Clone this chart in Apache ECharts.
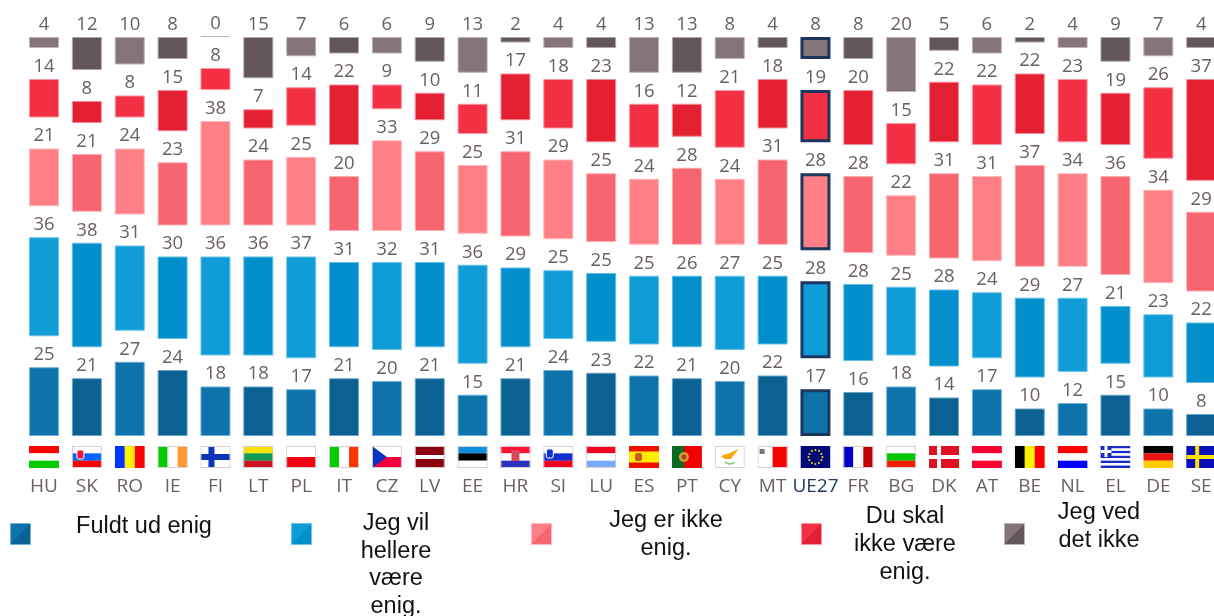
<!DOCTYPE html>
<html><head><meta charset="utf-8">
<style>html,body{margin:0;padding:0;background:#fff;overflow:hidden}#c{width:1214px;height:616px}</style>
<script src="https://cdn.jsdelivr.net/npm/echarts@6/dist/echarts.min.js"></script>
</head><body><div id="c"></div>
<script>
const categories = ['HU','SK','RO','IE','FI','LT','PL','IT','CZ','LV','EE','HR','SI','LU','ES','PT','CY','MT','UE27','FR','BG','DK','AT','BE','NL','EL','DE','SE'];
const fuldtUdEnig   = [25,21,27,24,18,18,17,21,20,21,15,21,24,23,22,21,20,22,17,16,18,14,17,10,12,15,10,8];
const hellereEnig   = [36,38,31,30,36,36,37,31,32,31,36,29,25,25,25,26,27,25,28,28,25,28,24,29,27,21,23,22];
const ikkeEnig      = [21,21,24,23,38,24,25,20,33,29,25,31,29,25,24,28,24,31,28,28,22,31,31,37,34,36,34,29];
const skalIkkeEnig  = [14,8,8,15,8,7,14,22,9,10,11,17,18,23,16,12,21,18,19,20,15,22,22,22,23,19,26,37];
const vedIkke       = [4,12,10,8,0,15,7,6,6,9,13,2,4,4,13,13,8,4,8,8,20,5,6,2,4,9,7,4];
const legendLabels  = ['Fuldt ud enig','Jeg vil\nhellere\nvære\nenig.','Jeg er ikke\nenig.','Du skal\nikke være\nenig.','Jeg ved\ndet ikke'];

const GAP = 11.27;
const palette = [
  {light:'#0E72AB',dark:'#0B6192',lightB:'#6FB2D6',darkB:'#6AA6C6'},
  {light:'#109CD7',dark:'#028FCB',lightB:'#6CC4E8',darkB:'#62BEE4'},
  {light:'#FF7F87',dark:'#F76570',lightB:'#FFB8BC',darkB:'#FBAEB3'},
  {light:'#F43144',dark:'#E41F31',lightB:'#FB959F',darkB:'#F08E97'},
  {light:'#857578',dark:'#62565B',lightB:'#BDB3B5',darkB:'#ADA6A9'}
];
const NAVY = '#1B365F', TXT = '#6A5F63';
const FONT = '"Open Sans"';
const seriesValues = [fuldtUdEnig,hellereEnig,ikkeEnig,skalIkkeEnig,vedIkke];

const st = (c,h)=>h.map((col,i)=>`<rect x="0" y="${i*22/h.length}" width="30" height="${22/h.length+.1}" fill="${col}"/>`).join('');
const sv = (h)=>h.map((col,i)=>`<rect y="0" x="${i*30/h.length}" height="22" width="${30/h.length+.1}" fill="${col}"/>`).join('');
const W='#ffffff';
const shield=(x,y,c)=>`<rect x="${x}" y="${y}" width="7" height="9" rx="2" fill="${c}" stroke="#ffffff" stroke-width="1"/>`;
let stars='';
[[15,4],[18.5,5],[21,8],[22,11],[21,14],[18.5,17],[15,18],[11.5,17],[9,14],[8,11],[9,8],[11.5,5]].forEach(p=>{stars+=`<circle cx="${p[0]}" cy="${p[1]}" r="1" fill="#FFE000"/>`;});
let elStripes='';
for(let i=0;i<9;i++)elStripes+=`<rect y="${i*22/9}" width="30" height="${22/9}" fill="${i%2?W:'#1A2BC8'}"/>`;
const flagBodies = {
  HU: st(0,['#FF0000',W,'#00CC00']),
  SK: st(0,[W,'#0066FF','#FF0000'])+shield(5,4,'#EE1133'),
  RO: sv(['#0033FF','#FFEE00','#FF0000']),
  IE: sv(['#00CC00',W,'#FF9933']),
  FI: `<rect width="30" height="22" fill="${W}"/><rect x="8" width="6" height="22" fill="#0A35B8"/><rect y="8" width="30" height="6" fill="#0A35B8"/>`,
  LT: st(0,['#FFE000','#119955','#CC1122']),
  PL: st(0,[W,'#F50012']),
  IT: sv(['#00CC00',W,'#FF3300']),
  CZ: st(0,[W,'#F5003C'])+'<path d="M0 0L15 11L0 22Z" fill="#0A33C4"/>',
  LV: `<rect width="30" height="22" fill="#8C0010"/><rect y="9" width="30" height="4" fill="${W}"/>`,
  EE: st(0,['#0F8FE0','#000000',W]),
  HR: st(0,['#FF1030',W,'#3030C0'])+'<rect x="11" y="4" width="8" height="11" fill="#D8485A"/>',
  SI: st(0,[W,'#1030D0','#F00020'])+shield(3,3,'#1030D0'),
  LU: st(0,['#F50020',W,'#77AAFF']),
  ES: '<rect width="30" height="22" fill="#EE1100"/><rect y="5.5" width="30" height="11" fill="#FFEE00"/><rect x="6" y="7" width="7" height="8" rx="2" fill="#C85A1C"/>',
  PT: '<rect width="30" height="22" fill="#F50000"/><rect width="12" height="22" fill="#0A6B1E"/><circle cx="12" cy="11" r="5" fill="#C8A030"/><circle cx="12" cy="11" r="2.4" fill="#C03020"/>',
  CY: `<rect width="30" height="22" fill="${W}"/><path d="M6 10L15 7L24 3L20 8L16 13L10 13Z" fill="#F5A800"/><path d="M10 16Q15 20 20 16" stroke="#7FCF6A" stroke-width="1.6" fill="none"/>`,
  MT: `<rect width="30" height="22" fill="${W}"/><rect x="15" width="15" height="22" fill="#FF0000"/><rect x="2" y="3" width="5" height="5" fill="#777777"/>`,
  UE27: '<rect width="30" height="22" fill="#000A78"/>'+stars,
  FR: sv(['#0000C8',W,'#C00000']),
  BG: st(0,[W,'#00C800','#F02000']),
  DK: `<rect width="30" height="22" fill="#DD1122"/><rect x="8" width="4" height="22" fill="${W}"/><rect y="9" width="30" height="4" fill="${W}"/>`,
  AT: st(0,['#FF0033',W,'#FF0033']),
  BE: sv(['#000000','#FFF000','#FF0000']),
  NL: st(0,['#FF0000',W,'#0000FF']),
  EL: elStripes+`<rect width="11" height="11" fill="#1A2BC8"/><rect x="4" width="3" height="11" fill="${W}"/><rect y="4" width="11" height="3" fill="${W}"/>`,
  DE: st(0,['#000000','#EE1111','#FFCC00']),
  SE: '<rect width="30" height="22" fill="#0A10B8"/><rect x="9" width="4" height="22" fill="#FFE000"/><rect y="9" width="30" height="4" fill="#FFE000"/>'
};
const bordered = ['SK','FI','PL','CZ','EE','SI','LU','CY','MT','BG','FR','IT','IE','HR','LV','LT'];
const flagUri = {};
categories.forEach(k=>{
  const b = bordered.includes(k)?'<rect x=".5" y=".5" width="29" height="21" fill="none" stroke="#D8CFCF" stroke-width="1"/>':'';
  flagUri[k]='data:image/svg+xml;charset=utf-8,'+encodeURIComponent(`<svg xmlns="http://www.w3.org/2000/svg" width="60" height="44" viewBox="0 0 30 22">${flagBodies[k]}${b}</svg>`);
});

const series = [];
seriesValues.forEach((vals,s)=>{
  if(s>0) series.push({type:'bar',stack:'t',silent:true,barWidth:30,data:categories.map(()=>GAP),itemStyle:{color:'transparent'},label:{show:false}});
  const p=palette[s];
  series.push({
    name:legendLabels[s].replace(/\n/g,' '),type:'bar',stack:'t',barWidth:30,clip:false,barMinHeight:s===4?1:0,
    data:vals.map((v,i)=>{
      const eu=categories[i]==='UE27', odd=i%2===1;
      return {value:v,itemStyle:{color:odd?p.dark:p.light,borderColor:eu?NAVY:(odd?p.darkB:p.lightB),borderWidth:eu?3:1}};
    }),
    label:{show:true,position:'top',distance:3,color:TXT,fontFamily:FONT,fontSize:18.5}
  });
});
series.push({
  type:'custom',silent:true,clip:false,
  data:categories.map((c,i)=>[i,0]),
  encode:{x:0,y:1},
  renderItem:(params,api)=>{
    const pt=api.coord([api.value(0),0]);
    return {type:'image',style:{image:flagUri[categories[params.dataIndex]],x:pt[0]-15,y:pt[1]+10,width:30,height:22}};
  }
});

const swatchX=[10,291,531,801,1004];
const textPos=[[144,513],[396,509.5],[666,507],[905,503],[1099,499]];
const graphic=[];
palette.forEach((p,i)=>{
  graphic.push({type:'rect',left:swatchX[i],top:523,shape:{width:20,height:21},
    style:{stroke:p.lightB,lineWidth:1,fill:new echarts.graphic.LinearGradient(0,0,1,1,[{offset:0,color:p.light},{offset:.5,color:p.light},{offset:.5,color:p.dark},{offset:1,color:p.dark}])}});
  graphic.push({type:'text',x:textPos[i][0],y:textPos[i][1],style:{text:legendLabels[i],align:'center',verticalAlign:'top',fill:'#111111',fontFamily:'"Liberation Sans"',fontSize:23.5,lineHeight:27.8}});
});

const chart=echarts.init(document.getElementById('c'),null,{renderer:'canvas'});
chart.setOption({
  animation:false,
  backgroundColor:'#fff',
  grid:{left:22.6,width:1200,top:37,height:399,containLabel:false,outerBoundsMode:'none'},
  xAxis:{type:'category',data:categories,axisLine:{show:false},axisTick:{show:false},
    axisLabel:{interval:0,margin:41,fontFamily:FONT,fontSize:19,color:(v)=>v==='UE27'?NAVY:TXT}},
  yAxis:{type:'value',min:0,max:100+4*GAP,show:false,splitLine:{show:false}},
  graphic:graphic,
  series:series
});
</script></body></html>
